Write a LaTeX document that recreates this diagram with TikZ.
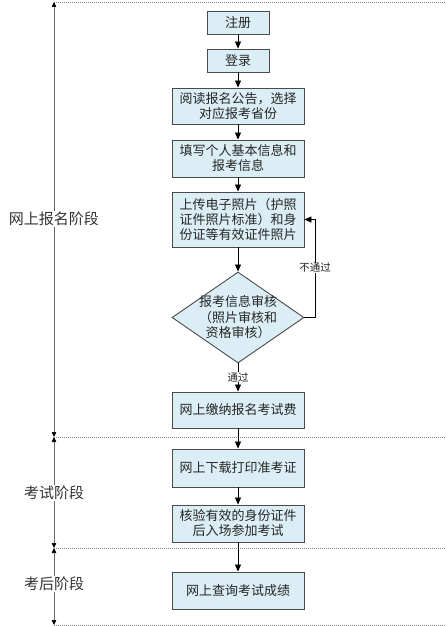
\documentclass[tikz,border=0pt]{standalone}
\usepackage{fontspec}
\newfontfamily\cjk{Noto Sans CJK SC}
\usepackage{xcolor}
\usetikzlibrary{shapes.geometric,
				arrows.meta}

\definecolor{boxfill}{HTML}{DCEEF5}
\definecolor{boxline}{HTML}{4A4A4A}
\definecolor{phaseline}{HTML}{8A8A8A}

\begin{document}
\begin{tikzpicture}[x=1pt, y=-1pt,
	stepbox/.style={draw=boxline, fill=boxfill, line width=0.9pt, minimum width=132pt, minimum height=36pt, inner sep=0pt, align=center, text=black!85, font=\cjk\fontsize{13}{15}\selectfont},
	smallbox/.style={stepbox, minimum width=62pt, minimum height=23pt},
	flow/.style={line width=0.8pt, -{Triangle[length=7pt, width=6pt]}},
	axis/.style={line width=0.7pt, black!60, {Triangle[length=5pt, width=4.5pt, black]}-{Triangle[length=5pt, width=4.5pt, black]}},
	phase/.style={phaseline, line width=0.6pt, dash pattern=on 1pt off 1pt},
	phasename/.style={fill=white, inner sep=1pt, text=black!80, font=\cjk\fontsize{15}{17}\selectfont},
	passlabel/.style={fill=white, inner sep=0.5pt, text=black!85, font=\cjk\fontsize{10.5}{12}\selectfont}]

\useasboundingbox (0,0) rectangle (445,626);

% phase borders
\coordinate (p0) at (54,2);
\coordinate (p1) at (54,437);
\coordinate (p2) at (54,548);
\coordinate (p3) at (54,625);
\draw[phase] (p0) -- (445,2);
\draw[phase] (p1) -- (445,437);
\draw[phase] (p2) -- (445,548);
\draw[phase] (p3) -- (445,625);

\draw[axis] (p0) -- (p1);
\draw[axis] (p1) -- (p2);
\draw[axis] (p2) -- (p3);

\node[phasename] (apply) at (54,219) {网上报名阶段};
\node[phasename] (examphase) at (54,493) {考试阶段};
\node[phasename] (afterphase) at (54,584) {考后阶段};

% steps
\node[smallbox] (reg) at (238,22.5) {注册};
\node[smallbox] (login) at (238,60.5) {登录};
\node[stepbox] (notice) at (238,106) {阅读报名公告，选择\\对应报考省份};
\node[stepbox, minimum height=37pt] (info) at (238,158.5) {填写个人基本信息和\\报考信息};
\node[stepbox, minimum height=55pt] (photo) at (238,219.5) {上传电子照片（护照\\证件照片标准）和身\\份证等有效证件照片};
\node[draw=boxline, fill=boxfill, line width=0.9pt, diamond, minimum width=132pt, minimum height=91pt, inner sep=0pt] (check) at (238,317.5) {};
\node[align=center, text=black!85, font=\cjk\fontsize{13}{15.5}\selectfont] (checktext) at (check.center) {报考信息审核\\（照片审核和\\资格审核）};
\node[stepbox] (pay) at (238,410) {网上缴纳报名考试费};
\node[stepbox, minimum height=38pt] (ticket) at (238,468) {网上下载打印准考证};
\node[stepbox, minimum height=37pt] (exam) at (238,523.5) {核验有效的身份证件\\后入场参加考试};
\node[stepbox, minimum height=37pt] (score) at (238,590.5) {网上查询考试成绩};

\draw[flow] (reg) -- (login);
\draw[flow] (login) -- (notice);
\draw[flow] (notice) -- (info);
\draw[flow] (info) -- (photo);
\draw[flow] (photo) -- (check);
\draw[flow] (check) -- (pay);
\draw[flow] (pay) -- (ticket);
\draw[flow] (ticket) -- (exam);
\draw[flow] (exam) -- (score);

\coordinate (back) at (315,317.5);
\draw[flow] (check.east) -- (back) |- (photo.east);

\node[passlabel] (fail) at (315,268) {不通过};
\node[passlabel] (pass) at (238,377) {通过};

\end{tikzpicture}
\end{document}
